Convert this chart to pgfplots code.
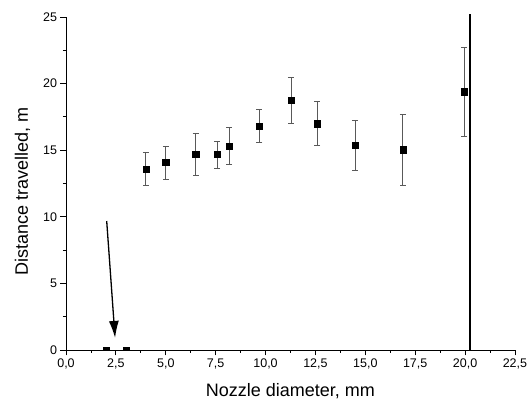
\documentclass[border=0pt]{standalone}
\usepackage{fontspec}
\setmainfont{Liberation Sans}
\usepackage{pgfplots}
\pgfplotsset{compat=1.18}
\usetikzlibrary{arrows.meta}

\begin{document}
\begin{tikzpicture}
\begin{axis}[
  scale only axis,
  width=449pt, height=333pt,
  xmin=0, xmax=22.5, ymin=0, ymax=25,
  axis lines=left,
  axis line style={-, line width=0.8pt},
  clip=false,
  xtick={0,2.5,...,22.5},
  ytick={0,5,...,25},
  minor x tick num=1,
  minor y tick num=1,
  tick align=outside,
  major tick length=5.5pt,
  minor tick length=3pt,
  tick style={line width=0.8pt, black},
  /pgf/number format/assume math mode=true,
  xticklabel style={/pgf/number format/.cd, fixed, fixed zerofill, precision=1, use comma},
  yticklabel style={/pgf/number format/.cd, fixed, precision=0},
  ticklabel style={font=\fontsize{12.5}{14}\selectfont},
  xlabel={Nozzle diameter, mm},
  ylabel={Distance travelled, m},
  label style={font=\fontsize{18}{20}\selectfont},
  xlabel style={yshift=-7pt},
  ylabel style={yshift=6pt, xshift=-8pt},
]
\path (rel axis cs:-0.147,-0.159) rectangle (rel axis cs:1.038,1.051);
\addplot[only marks, mark=square*, mark size=3.1pt, black,
  error bars/.cd, y dir=both, y explicit,
  error bar style={gray!70!black, line width=0.7pt},
  error mark options={rotate=90, mark size=3pt, gray!70!black, line width=0.7pt}]
  table[x=x, y=y, y error plus=ep, y error minus=em] {
x      y      ep     em
4.0    13.59  1.25   1.20
5.0    14.09  1.20   1.28
6.5    14.71  1.53   1.57
7.58   14.71  0.98   1.05
8.18   15.29  1.42   1.35
9.69   16.82  1.25   1.25
11.27  18.77  1.70   1.75
12.59  16.99  1.68   1.62
14.48  15.39  1.85   1.90
16.88  15.04  2.68   2.70
19.97  19.39  3.31   3.35
};
\addplot[only marks, mark=square*, mark size=3.1pt, black, mark options={yscale=0.5}]
  coordinates {(2.0,0.12)(3.0,0.12)};
\addplot[black, line width=1.6pt, mark=none]
  coordinates {(20.25,0)(20.25,25.2)};
\draw[-{Latex[length=17pt,width=10pt]}, line width=1.3pt] (axis cs:2.04,9.68) -- (axis cs:2.46,0.9);
\end{axis}
\end{tikzpicture}
\end{document}
